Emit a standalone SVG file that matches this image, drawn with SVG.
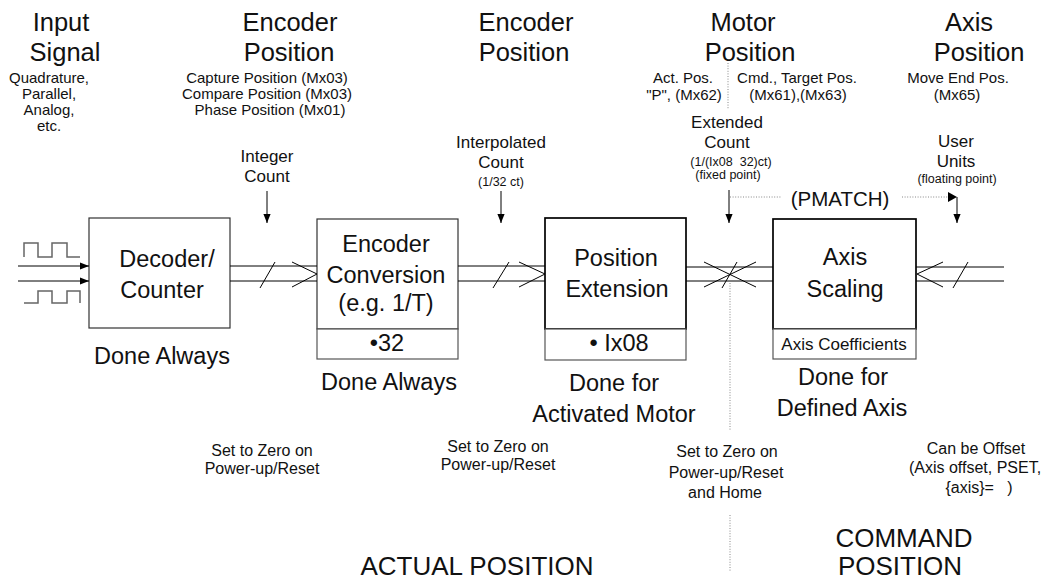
<svg xmlns="http://www.w3.org/2000/svg" width="1050" height="580" viewBox="0 0 1050 580">
<style>
text{font-family:"Liberation Sans",Arial,sans-serif;fill:#111;text-anchor:middle}
.h{font-size:25.5px}
.b{font-size:23.5px}
.s{font-size:15px}
.m{font-size:17px}
.t{font-size:12.5px}
.z{font-size:16px}
.big{font-size:26px}
.box{fill:#fff;stroke:#333;stroke-width:1.2}
.boxk{fill:#fff;stroke:#000;stroke-width:1.7}
.sub{fill:#fff;stroke:#555;stroke-width:1.2}
.ln{stroke:#000;stroke-width:1;fill:none}
.dot{stroke:#888;stroke-width:1;stroke-dasharray:1 1.6;fill:none}
.wave{stroke:#666;stroke-width:1.5;fill:none}
</style>
<defs>
<marker id="ah" viewBox="0 0 10 10" refX="10" refY="5" markerWidth="9" markerHeight="9" markerUnits="userSpaceOnUse" orient="auto"><path d="M0,1 L10,5 L0,9 z" fill="#000"/></marker>
</defs>
<rect width="1050" height="580" fill="#fff"/>

<g id="headers">
<text class="h" x="61" y="31">Input</text>
<text class="h" x="65" y="61">Signal</text>
<text class="s" x="49" y="83">Quadrature,</text>
<text class="s" x="49" y="99">Parallel,</text>
<text class="s" x="49" y="115">Analog,</text>
<text class="s" x="49" y="131">etc.</text>

<text class="h" x="290" y="31">Encoder</text>
<text class="h" x="289" y="61">Position</text>
<text class="s" x="267" y="83">Capture Position (Mx03)</text>
<text class="s" x="267" y="99">Compare Position (Mx03)</text>
<text class="s" x="270" y="115">Phase Position (Mx01)</text>

<text class="h" x="526" y="31">Encoder</text>
<text class="h" x="524" y="61">Position</text>

<text class="h" x="743" y="31">Motor</text>
<text class="h" x="750" y="61">Position</text>
<text class="s" x="683" y="83">Act. Pos.</text>
<text class="s" x="684" y="100">"P", (Mx62)</text>
<text class="s" x="797" y="83">Cmd., Target Pos.</text>
<text class="s" x="798" y="100">(Mx61),(Mx63)</text>

<text class="h" x="969" y="31">Axis</text>
<text class="h" x="979" y="61">Position</text>
<text class="s" x="958" y="83">Move End Pos.</text>
<text class="s" x="957" y="100">(Mx65)</text>
</g>

<g id="count-labels">
<text class="m" x="267" y="162">Integer</text>
<text class="m" x="267" y="182">Count</text>
<text class="m" x="501" y="148">Interpolated</text>
<text class="m" x="501" y="168">Count</text>
<text class="t" x="501" y="186">(1/32 ct)</text>
<text class="m" x="727" y="128">Extended</text>
<text class="m" x="727" y="148">Count</text>
<text class="t" x="731" y="166">(1/(Ix08&#160; 32)ct)</text>
<text class="t" x="728" y="179">(fixed point)</text>
<text class="m" x="956" y="147">User</text>
<text class="m" x="956" y="167">Units</text>
<text class="t" x="957" y="183">(floating point)</text>
<text x="840" y="206" style="font-size:20.5px">(PMATCH)</text>
</g>

<g id="signal-input">
<path class="wave" d="M24,257 V243 H38 V257 H52 V243 H67 V257 H80"/>
<path class="wave" d="M24,303 H38 V291 H52 V303 H67 V291 H80 V303"/>
</g>

<g id="decoder">
<rect class="box" x="89" y="218" width="141" height="110"/>
<text class="b" x="167" y="267">Decoder/</text>
<text class="b" x="162" y="298">Counter</text>
</g>

<g id="encoder-conversion">
<rect class="box" x="317" y="219" width="141" height="110"/>
<rect class="sub" x="317" y="329" width="141" height="30"/>
<text class="b" x="386" y="252">Encoder</text>
<text class="b" x="386" y="283">Conversion</text>
<text class="b" x="386" y="311">(e.g. 1/T)</text>
<text class="b" x="387" y="351">•32</text>
</g>

<g id="position-extension">
<rect class="boxk" x="545" y="218" width="141" height="111"/>
<rect class="sub" x="545" y="329" width="141" height="31"/>
<text class="b" x="616" y="266">Position</text>
<text class="b" x="617" y="297">Extension</text>
<text class="b" x="619" y="351">•&#160;Ix08</text>
</g>

<g id="axis-scaling">
<rect class="boxk" x="773" y="219" width="143" height="110"/>
<rect class="sub" x="773" y="329" width="143" height="30"/>
<text class="b" x="845" y="265">Axis</text>
<text class="b" x="845" y="297">Scaling</text>
<text x="844" y="350" style="font-size:17px">Axis Coefficients</text>
</g>

<g id="connectors">
<line class="ln" x1="18" y1="266" x2="89" y2="266" marker-end="url(#ah)"/>
<line class="ln" x1="18" y1="281" x2="89" y2="281" marker-end="url(#ah)"/>

<line class="ln" x1="230" y1="266" x2="317" y2="266"/>
<line class="ln" x1="230" y1="281" x2="317" y2="281"/>
<polyline class="ln" points="292,262 317,274 292,287"/>
<line class="ln" x1="260" y1="288" x2="275" y2="262"/>

<line class="ln" x1="458" y1="266" x2="545" y2="266"/>
<line class="ln" x1="458" y1="281" x2="545" y2="281"/>
<polyline class="ln" points="519,262 545,274 519,287"/>
<line class="ln" x1="493" y1="288" x2="509" y2="262"/>

<line class="ln" x1="686" y1="267" x2="773" y2="267"/>
<line class="ln" x1="686" y1="281" x2="773" y2="281"/>
<line class="ln" x1="704" y1="262" x2="756" y2="287"/>
<line class="ln" x1="704" y1="287" x2="756" y2="262"/>
<line class="ln" x1="722" y1="288" x2="737" y2="262"/>

<line class="ln" x1="916" y1="267" x2="1004" y2="267"/>
<line class="ln" x1="916" y1="281" x2="1004" y2="281"/>
<polyline class="ln" points="943,262 917,274 943,287"/>
<line class="ln" x1="953" y1="288" x2="968" y2="262"/>

<line class="ln" x1="267" y1="191" x2="267" y2="223" marker-end="url(#ah)"/>
<line class="ln" x1="501" y1="191" x2="501" y2="223" marker-end="url(#ah)"/>
<line class="ln" x1="729" y1="190" x2="729" y2="223" marker-end="url(#ah)"/>
<line class="ln" x1="957" y1="197" x2="957" y2="223" marker-end="url(#ah)"/>

<line class="dot" x1="730" y1="197" x2="782" y2="197"/>
<line class="dot" x1="902" y1="197" x2="949" y2="197"/>
<path d="M948,192 L957,197 L948,202 z" fill="#000"/>

<line class="dot" x1="728" y1="63" x2="728" y2="109"/>
<line class="dot" x1="730" y1="283" x2="730" y2="430"/>
<line class="dot" x1="730" y1="515" x2="730" y2="572"/>
</g>

<g id="notes">
<text class="b" x="162" y="364">Done Always</text>
<text class="b" x="389" y="390">Done Always</text>
<text class="b" x="614" y="391">Done for</text>
<text class="b" x="614" y="422">Activated Motor</text>
<text class="b" x="843" y="385">Done for</text>
<text class="b" x="842" y="416">Defined Axis</text>

<text class="z" x="262" y="456">Set to Zero on</text>
<text class="z" x="262" y="474">Power-up/Reset</text>
<text class="z" x="498" y="452">Set to Zero on</text>
<text class="z" x="498" y="470">Power-up/Reset</text>
<text class="z" x="727" y="457">Set to Zero on</text>
<text class="z" x="726" y="478">Power-up/Reset</text>
<text class="z" x="725" y="498">and Home</text>
<text class="z" x="976" y="454">Can be Offset</text>
<text class="z" x="975" y="473">(Axis offset, PSET,</text>
<text class="z" x="979" y="493">{axis}=&#160;&#160; )</text>

<text class="big" x="477" y="575">ACTUAL POSITION</text>
<text class="big" x="904" y="547">COMMAND</text>
<text class="big" x="900" y="575">POSITION</text>
</g>
</svg>
